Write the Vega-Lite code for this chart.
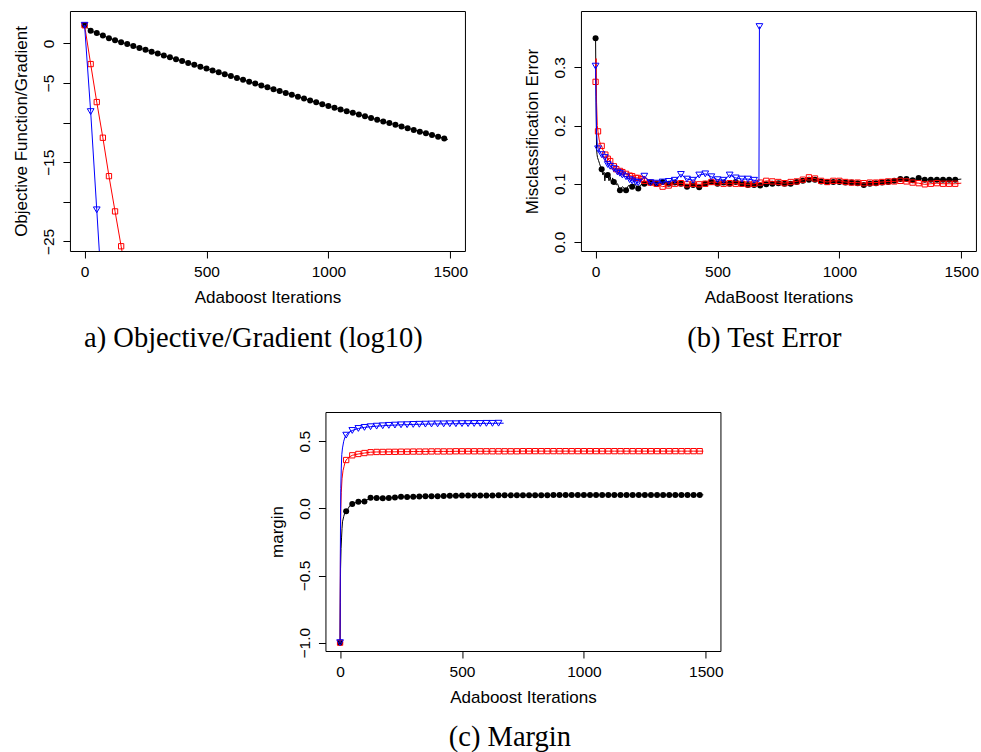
{
  "$schema": "https://vega.github.io/schema/vega-lite/v6.json",
  "background": "white",
  "padding": {"left": 11.5, "top": 10, "right": 0, "bottom": 0},
  "datasets": {
    "obj": [
      {"s": "k", "x": 0, "y": 2.3, "m": 1}, {"s": "k", "x": 25, "y": 1.6, "m": 1}, {"s": "k", "x": 50, "y": 1.31, "m": 1},
      {"s": "k", "x": 75, "y": 1.0, "m": 1}, {"s": "k", "x": 100, "y": 0.67, "m": 1}, {"s": "k", "x": 125, "y": 0.42, "m": 1},
      {"s": "k", "x": 150, "y": 0.17, "m": 1}, {"s": "k", "x": 175, "y": -0.08, "m": 1}, {"s": "k", "x": 200, "y": -0.33, "m": 1},
      {"s": "k", "x": 225, "y": -0.57, "m": 1}, {"s": "k", "x": 250, "y": -0.8, "m": 1}, {"s": "k", "x": 275, "y": -1.04, "m": 1},
      {"s": "k", "x": 300, "y": -1.28, "m": 1}, {"s": "k", "x": 325, "y": -1.51, "m": 1}, {"s": "k", "x": 350, "y": -1.75, "m": 1},
      {"s": "k", "x": 375, "y": -1.99, "m": 1}, {"s": "k", "x": 400, "y": -2.22, "m": 1}, {"s": "k", "x": 425, "y": -2.46, "m": 1},
      {"s": "k", "x": 450, "y": -2.7, "m": 1}, {"s": "k", "x": 475, "y": -2.93, "m": 1}, {"s": "k", "x": 500, "y": -3.17, "m": 1},
      {"s": "k", "x": 525, "y": -3.41, "m": 1}, {"s": "k", "x": 550, "y": -3.64, "m": 1}, {"s": "k", "x": 575, "y": -3.88, "m": 1},
      {"s": "k", "x": 600, "y": -4.12, "m": 1}, {"s": "k", "x": 625, "y": -4.35, "m": 1}, {"s": "k", "x": 650, "y": -4.59, "m": 1},
      {"s": "k", "x": 675, "y": -4.83, "m": 1}, {"s": "k", "x": 700, "y": -5.06, "m": 1}, {"s": "k", "x": 725, "y": -5.3, "m": 1},
      {"s": "k", "x": 750, "y": -5.54, "m": 1}, {"s": "k", "x": 775, "y": -5.77, "m": 1}, {"s": "k", "x": 800, "y": -6.01, "m": 1},
      {"s": "k", "x": 825, "y": -6.25, "m": 1}, {"s": "k", "x": 850, "y": -6.48, "m": 1}, {"s": "k", "x": 875, "y": -6.72, "m": 1},
      {"s": "k", "x": 900, "y": -6.96, "m": 1}, {"s": "k", "x": 925, "y": -7.19, "m": 1}, {"s": "k", "x": 950, "y": -7.43, "m": 1},
      {"s": "k", "x": 975, "y": -7.67, "m": 1}, {"s": "k", "x": 1000, "y": -7.9, "m": 1}, {"s": "k", "x": 1025, "y": -8.12, "m": 1},
      {"s": "k", "x": 1050, "y": -8.33, "m": 1}, {"s": "k", "x": 1075, "y": -8.55, "m": 1}, {"s": "k", "x": 1100, "y": -8.76, "m": 1},
      {"s": "k", "x": 1125, "y": -8.98, "m": 1}, {"s": "k", "x": 1150, "y": -9.19, "m": 1}, {"s": "k", "x": 1175, "y": -9.41, "m": 1},
      {"s": "k", "x": 1200, "y": -9.62, "m": 1}, {"s": "k", "x": 1225, "y": -9.84, "m": 1}, {"s": "k", "x": 1250, "y": -10.05, "m": 1},
      {"s": "k", "x": 1275, "y": -10.27, "m": 1}, {"s": "k", "x": 1300, "y": -10.48, "m": 1}, {"s": "k", "x": 1325, "y": -10.7, "m": 1},
      {"s": "k", "x": 1350, "y": -10.91, "m": 1}, {"s": "k", "x": 1375, "y": -11.13, "m": 1}, {"s": "k", "x": 1400, "y": -11.34, "m": 1},
      {"s": "k", "x": 1425, "y": -11.56, "m": 1}, {"s": "k", "x": 1450, "y": -11.77, "m": 1}, {"s": "k", "x": 1475, "y": -11.99, "m": 1},
      {"s": "k", "x": 1490, "y": -12.12, "m": 0},
      {"s": "r", "x": 0, "y": 2.3, "m": 1}, {"s": "r", "x": 25, "y": -2.6, "m": 1}, {"s": "r", "x": 50, "y": -7.4, "m": 1},
      {"s": "r", "x": 75, "y": -11.9, "m": 1}, {"s": "r", "x": 100, "y": -16.75, "m": 1}, {"s": "r", "x": 125, "y": -21.2, "m": 1},
      {"s": "r", "x": 150, "y": -25.6, "m": 1}, {"s": "r", "x": 175, "y": -30.0, "m": 1},
      {"s": "b", "x": 0, "y": 2.3, "m": 1}, {"s": "b", "x": 25, "y": -8.6, "m": 1}, {"s": "b", "x": 50, "y": -21.0, "m": 1},
      {"s": "b", "x": 75, "y": -33.5, "m": 1}
    ],
    "err": [
      {"s": "k", "x": 0, "y": 0.35, "m": 1}, {"s": "k", "x": 2, "y": 0.25, "m": 0}, {"s": "k", "x": 4, "y": 0.16, "m": 0},
      {"s": "k", "x": 6, "y": 0.15, "m": 0}, {"s": "k", "x": 8, "y": 0.145, "m": 0}, {"s": "k", "x": 12, "y": 0.14, "m": 0},
      {"s": "k", "x": 16, "y": 0.135, "m": 0}, {"s": "k", "x": 20, "y": 0.13, "m": 0}, {"s": "k", "x": 25, "y": 0.125, "m": 1},
      {"s": "k", "x": 30, "y": 0.115, "m": 0}, {"s": "k", "x": 35, "y": 0.12, "m": 0}, {"s": "k", "x": 38, "y": 0.105, "m": 0},
      {"s": "k", "x": 42, "y": 0.118, "m": 0}, {"s": "k", "x": 46, "y": 0.11, "m": 0}, {"s": "k", "x": 50, "y": 0.115, "m": 1},
      {"s": "k", "x": 55, "y": 0.105, "m": 0}, {"s": "k", "x": 60, "y": 0.112, "m": 0}, {"s": "k", "x": 65, "y": 0.1, "m": 0},
      {"s": "k", "x": 70, "y": 0.11, "m": 0}, {"s": "k", "x": 75, "y": 0.103, "m": 1}, {"s": "k", "x": 80, "y": 0.105, "m": 0},
      {"s": "k", "x": 85, "y": 0.098, "m": 0}, {"s": "k", "x": 90, "y": 0.1, "m": 0}, {"s": "k", "x": 100, "y": 0.089, "m": 1},
      {"s": "k", "x": 110, "y": 0.095, "m": 0}, {"s": "k", "x": 125, "y": 0.089, "m": 1}, {"s": "k", "x": 135, "y": 0.097, "m": 0},
      {"s": "k", "x": 150, "y": 0.095, "m": 1}, {"s": "k", "x": 160, "y": 0.1, "m": 0}, {"s": "k", "x": 175, "y": 0.092, "m": 1},
      {"s": "k", "x": 185, "y": 0.098, "m": 0}, {"s": "k", "x": 200, "y": 0.1, "m": 1}, {"s": "k", "x": 225, "y": 0.102, "m": 1},
      {"s": "k", "x": 250, "y": 0.1, "m": 1}, {"s": "k", "x": 275, "y": 0.103, "m": 1}, {"s": "k", "x": 300, "y": 0.1, "m": 1},
      {"s": "k", "x": 325, "y": 0.102, "m": 1}, {"s": "k", "x": 350, "y": 0.1, "m": 1}, {"s": "k", "x": 375, "y": 0.095, "m": 1},
      {"s": "k", "x": 400, "y": 0.098, "m": 1}, {"s": "k", "x": 425, "y": 0.094, "m": 1}, {"s": "k", "x": 450, "y": 0.1, "m": 1},
      {"s": "k", "x": 475, "y": 0.103, "m": 1}, {"s": "k", "x": 500, "y": 0.1, "m": 1}, {"s": "k", "x": 525, "y": 0.102, "m": 1},
      {"s": "k", "x": 550, "y": 0.1, "m": 1}, {"s": "k", "x": 575, "y": 0.103, "m": 1}, {"s": "k", "x": 600, "y": 0.1, "m": 1},
      {"s": "k", "x": 625, "y": 0.098, "m": 1}, {"s": "k", "x": 650, "y": 0.098, "m": 1}, {"s": "k", "x": 675, "y": 0.097, "m": 1},
      {"s": "k", "x": 700, "y": 0.099, "m": 1}, {"s": "k", "x": 725, "y": 0.1, "m": 1}, {"s": "k", "x": 750, "y": 0.101, "m": 1},
      {"s": "k", "x": 775, "y": 0.1, "m": 1}, {"s": "k", "x": 800, "y": 0.1, "m": 1}, {"s": "k", "x": 825, "y": 0.103, "m": 1},
      {"s": "k", "x": 850, "y": 0.105, "m": 1}, {"s": "k", "x": 875, "y": 0.107, "m": 1}, {"s": "k", "x": 900, "y": 0.107, "m": 1},
      {"s": "k", "x": 925, "y": 0.104, "m": 1}, {"s": "k", "x": 950, "y": 0.103, "m": 1}, {"s": "k", "x": 975, "y": 0.103, "m": 1},
      {"s": "k", "x": 1000, "y": 0.103, "m": 1}, {"s": "k", "x": 1025, "y": 0.102, "m": 1}, {"s": "k", "x": 1050, "y": 0.102, "m": 1},
      {"s": "k", "x": 1075, "y": 0.101, "m": 1}, {"s": "k", "x": 1100, "y": 0.098, "m": 1}, {"s": "k", "x": 1125, "y": 0.1, "m": 1},
      {"s": "k", "x": 1150, "y": 0.101, "m": 1}, {"s": "k", "x": 1175, "y": 0.102, "m": 1}, {"s": "k", "x": 1200, "y": 0.103, "m": 1},
      {"s": "k", "x": 1225, "y": 0.105, "m": 1}, {"s": "k", "x": 1250, "y": 0.108, "m": 1}, {"s": "k", "x": 1275, "y": 0.108, "m": 1},
      {"s": "k", "x": 1300, "y": 0.106, "m": 1}, {"s": "k", "x": 1325, "y": 0.11, "m": 1}, {"s": "k", "x": 1350, "y": 0.107, "m": 1},
      {"s": "k", "x": 1375, "y": 0.107, "m": 1}, {"s": "k", "x": 1400, "y": 0.107, "m": 1}, {"s": "k", "x": 1425, "y": 0.107, "m": 1},
      {"s": "k", "x": 1450, "y": 0.107, "m": 1}, {"s": "k", "x": 1475, "y": 0.107, "m": 1}, {"s": "k", "x": 1500, "y": 0.108, "m": 0},
      {"s": "r", "x": 0, "y": 0.275, "m": 1}, {"s": "r", "x": 2, "y": 0.315, "m": 0}, {"s": "r", "x": 4, "y": 0.24, "m": 0},
      {"s": "r", "x": 7, "y": 0.2, "m": 0}, {"s": "r", "x": 10, "y": 0.19, "m": 1}, {"s": "r", "x": 15, "y": 0.175, "m": 0},
      {"s": "r", "x": 20, "y": 0.168, "m": 0}, {"s": "r", "x": 25, "y": 0.165, "m": 1}, {"s": "r", "x": 30, "y": 0.158, "m": 0},
      {"s": "r", "x": 35, "y": 0.155, "m": 0}, {"s": "r", "x": 40, "y": 0.15, "m": 1}, {"s": "r", "x": 45, "y": 0.148, "m": 0},
      {"s": "r", "x": 50, "y": 0.143, "m": 1}, {"s": "r", "x": 60, "y": 0.139, "m": 1}, {"s": "r", "x": 70, "y": 0.131, "m": 0},
      {"s": "r", "x": 75, "y": 0.13, "m": 1}, {"s": "r", "x": 85, "y": 0.125, "m": 1}, {"s": "r", "x": 100, "y": 0.122, "m": 1},
      {"s": "r", "x": 110, "y": 0.12, "m": 1}, {"s": "r", "x": 125, "y": 0.117, "m": 1}, {"s": "r", "x": 140, "y": 0.114, "m": 1},
      {"s": "r", "x": 150, "y": 0.113, "m": 1}, {"s": "r", "x": 165, "y": 0.11, "m": 1}, {"s": "r", "x": 175, "y": 0.11, "m": 1},
      {"s": "r", "x": 190, "y": 0.108, "m": 1}, {"s": "r", "x": 200, "y": 0.105, "m": 1}, {"s": "r", "x": 225, "y": 0.102, "m": 1},
      {"s": "r", "x": 250, "y": 0.1, "m": 1}, {"s": "r", "x": 275, "y": 0.095, "m": 1}, {"s": "r", "x": 300, "y": 0.097, "m": 1},
      {"s": "r", "x": 325, "y": 0.1, "m": 1}, {"s": "r", "x": 350, "y": 0.101, "m": 1}, {"s": "r", "x": 375, "y": 0.099, "m": 1},
      {"s": "r", "x": 400, "y": 0.1, "m": 1}, {"s": "r", "x": 425, "y": 0.099, "m": 1}, {"s": "r", "x": 450, "y": 0.1, "m": 1},
      {"s": "r", "x": 475, "y": 0.103, "m": 1}, {"s": "r", "x": 500, "y": 0.102, "m": 1}, {"s": "r", "x": 525, "y": 0.1, "m": 1},
      {"s": "r", "x": 550, "y": 0.101, "m": 1}, {"s": "r", "x": 575, "y": 0.1, "m": 1}, {"s": "r", "x": 600, "y": 0.1, "m": 1},
      {"s": "r", "x": 625, "y": 0.099, "m": 1}, {"s": "r", "x": 650, "y": 0.1, "m": 1}, {"s": "r", "x": 675, "y": 0.102, "m": 1},
      {"s": "r", "x": 700, "y": 0.105, "m": 1}, {"s": "r", "x": 725, "y": 0.104, "m": 1}, {"s": "r", "x": 750, "y": 0.103, "m": 1},
      {"s": "r", "x": 775, "y": 0.101, "m": 1}, {"s": "r", "x": 800, "y": 0.103, "m": 1}, {"s": "r", "x": 825, "y": 0.104, "m": 1},
      {"s": "r", "x": 850, "y": 0.107, "m": 1}, {"s": "r", "x": 875, "y": 0.111, "m": 1}, {"s": "r", "x": 900, "y": 0.109, "m": 1},
      {"s": "r", "x": 925, "y": 0.105, "m": 1}, {"s": "r", "x": 950, "y": 0.103, "m": 1}, {"s": "r", "x": 975, "y": 0.105, "m": 1},
      {"s": "r", "x": 1000, "y": 0.105, "m": 1}, {"s": "r", "x": 1025, "y": 0.103, "m": 1}, {"s": "r", "x": 1050, "y": 0.102, "m": 1},
      {"s": "r", "x": 1075, "y": 0.102, "m": 1}, {"s": "r", "x": 1100, "y": 0.101, "m": 1}, {"s": "r", "x": 1125, "y": 0.102, "m": 1},
      {"s": "r", "x": 1150, "y": 0.102, "m": 1}, {"s": "r", "x": 1175, "y": 0.103, "m": 1}, {"s": "r", "x": 1200, "y": 0.104, "m": 1},
      {"s": "r", "x": 1225, "y": 0.104, "m": 1}, {"s": "r", "x": 1250, "y": 0.105, "m": 1}, {"s": "r", "x": 1275, "y": 0.104, "m": 1},
      {"s": "r", "x": 1300, "y": 0.102, "m": 1}, {"s": "r", "x": 1325, "y": 0.101, "m": 1}, {"s": "r", "x": 1350, "y": 0.099, "m": 1},
      {"s": "r", "x": 1375, "y": 0.1, "m": 1}, {"s": "r", "x": 1400, "y": 0.101, "m": 1}, {"s": "r", "x": 1425, "y": 0.1, "m": 1},
      {"s": "r", "x": 1450, "y": 0.1, "m": 1}, {"s": "r", "x": 1475, "y": 0.1, "m": 1}, {"s": "r", "x": 1500, "y": 0.101, "m": 0},
      {"s": "b", "x": 0, "y": 0.302, "m": 1}, {"s": "b", "x": 2, "y": 0.24, "m": 0}, {"s": "b", "x": 4, "y": 0.19, "m": 0},
      {"s": "b", "x": 7, "y": 0.168, "m": 0}, {"s": "b", "x": 10, "y": 0.16, "m": 1}, {"s": "b", "x": 13, "y": 0.159, "m": 0},
      {"s": "b", "x": 18, "y": 0.155, "m": 0}, {"s": "b", "x": 25, "y": 0.15, "m": 1}, {"s": "b", "x": 30, "y": 0.148, "m": 0},
      {"s": "b", "x": 38, "y": 0.145, "m": 1}, {"s": "b", "x": 45, "y": 0.138, "m": 0}, {"s": "b", "x": 50, "y": 0.133, "m": 1},
      {"s": "b", "x": 60, "y": 0.13, "m": 1}, {"s": "b", "x": 75, "y": 0.126, "m": 1}, {"s": "b", "x": 90, "y": 0.12, "m": 1},
      {"s": "b", "x": 100, "y": 0.118, "m": 1}, {"s": "b", "x": 110, "y": 0.115, "m": 1}, {"s": "b", "x": 125, "y": 0.112, "m": 1},
      {"s": "b", "x": 140, "y": 0.107, "m": 1}, {"s": "b", "x": 150, "y": 0.105, "m": 1}, {"s": "b", "x": 165, "y": 0.103, "m": 1},
      {"s": "b", "x": 175, "y": 0.102, "m": 1}, {"s": "b", "x": 200, "y": 0.113, "m": 1}, {"s": "b", "x": 225, "y": 0.102, "m": 1},
      {"s": "b", "x": 250, "y": 0.101, "m": 1}, {"s": "b", "x": 275, "y": 0.103, "m": 1}, {"s": "b", "x": 300, "y": 0.104, "m": 1},
      {"s": "b", "x": 325, "y": 0.106, "m": 1}, {"s": "b", "x": 350, "y": 0.116, "m": 1}, {"s": "b", "x": 375, "y": 0.108, "m": 1},
      {"s": "b", "x": 400, "y": 0.106, "m": 1}, {"s": "b", "x": 425, "y": 0.115, "m": 1}, {"s": "b", "x": 450, "y": 0.117, "m": 1},
      {"s": "b", "x": 475, "y": 0.112, "m": 1}, {"s": "b", "x": 500, "y": 0.107, "m": 1}, {"s": "b", "x": 525, "y": 0.106, "m": 1},
      {"s": "b", "x": 550, "y": 0.115, "m": 1}, {"s": "b", "x": 575, "y": 0.11, "m": 1}, {"s": "b", "x": 600, "y": 0.108, "m": 1},
      {"s": "b", "x": 625, "y": 0.108, "m": 1}, {"s": "b", "x": 650, "y": 0.106, "m": 1}, {"s": "b", "x": 670, "y": 0.104, "m": 0},
      {"s": "b", "x": 672, "y": 0.37, "m": 1}
    ],
    "mar": [
      {"s": "k", "x": 0, "y": -1.0, "m": 1}, {"s": "k", "x": 1, "y": -0.7, "m": 0}, {"s": "k", "x": 2, "y": -0.45, "m": 0},
      {"s": "k", "x": 4, "y": -0.3, "m": 0}, {"s": "k", "x": 6, "y": -0.22, "m": 0}, {"s": "k", "x": 8, "y": -0.15, "m": 0},
      {"s": "k", "x": 10, "y": -0.1, "m": 0}, {"s": "k", "x": 15, "y": -0.06, "m": 0}, {"s": "k", "x": 20, "y": -0.03, "m": 0},
      {"s": "k", "x": 25, "y": -0.022, "m": 1}, {"s": "k", "x": 30, "y": -0.01, "m": 0}, {"s": "k", "x": 40, "y": 0.02, "m": 0},
      {"s": "k", "x": 50, "y": 0.032, "m": 1}, {"s": "k", "x": 60, "y": 0.04, "m": 0}, {"s": "k", "x": 75, "y": 0.05, "m": 1},
      {"s": "k", "x": 100, "y": 0.052, "m": 1}, {"s": "k", "x": 125, "y": 0.079, "m": 1}, {"s": "k", "x": 150, "y": 0.078, "m": 1},
      {"s": "k", "x": 175, "y": 0.076, "m": 1}, {"s": "k", "x": 200, "y": 0.078, "m": 1}, {"s": "k", "x": 225, "y": 0.08, "m": 1},
      {"s": "k", "x": 250, "y": 0.086, "m": 1}, {"s": "k", "x": 275, "y": 0.085, "m": 1}, {"s": "k", "x": 300, "y": 0.087, "m": 1},
      {"s": "k", "x": 325, "y": 0.088, "m": 1}, {"s": "k", "x": 350, "y": 0.09, "m": 1}, {"s": "k", "x": 375, "y": 0.09, "m": 1},
      {"s": "k", "x": 400, "y": 0.091, "m": 1}, {"s": "k", "x": 425, "y": 0.092, "m": 1}, {"s": "k", "x": 450, "y": 0.093, "m": 1},
      {"s": "k", "x": 475, "y": 0.094, "m": 1}, {"s": "k", "x": 500, "y": 0.095, "m": 1}, {"s": "k", "x": 525, "y": 0.095, "m": 1},
      {"s": "k", "x": 550, "y": 0.095, "m": 1}, {"s": "k", "x": 575, "y": 0.096, "m": 1}, {"s": "k", "x": 600, "y": 0.096, "m": 1},
      {"s": "k", "x": 625, "y": 0.096, "m": 1}, {"s": "k", "x": 650, "y": 0.097, "m": 1}, {"s": "k", "x": 675, "y": 0.097, "m": 1},
      {"s": "k", "x": 700, "y": 0.097, "m": 1}, {"s": "k", "x": 725, "y": 0.097, "m": 1}, {"s": "k", "x": 750, "y": 0.098, "m": 1},
      {"s": "k", "x": 775, "y": 0.098, "m": 1}, {"s": "k", "x": 800, "y": 0.098, "m": 1}, {"s": "k", "x": 825, "y": 0.098, "m": 1},
      {"s": "k", "x": 850, "y": 0.098, "m": 1}, {"s": "k", "x": 875, "y": 0.099, "m": 1}, {"s": "k", "x": 900, "y": 0.099, "m": 1},
      {"s": "k", "x": 925, "y": 0.099, "m": 1}, {"s": "k", "x": 950, "y": 0.099, "m": 1}, {"s": "k", "x": 975, "y": 0.099, "m": 1},
      {"s": "k", "x": 1000, "y": 0.099, "m": 1}, {"s": "k", "x": 1025, "y": 0.099, "m": 1}, {"s": "k", "x": 1050, "y": 0.1, "m": 1},
      {"s": "k", "x": 1075, "y": 0.1, "m": 1}, {"s": "k", "x": 1100, "y": 0.1, "m": 1}, {"s": "k", "x": 1125, "y": 0.1, "m": 1},
      {"s": "k", "x": 1150, "y": 0.1, "m": 1}, {"s": "k", "x": 1175, "y": 0.1, "m": 1}, {"s": "k", "x": 1200, "y": 0.1, "m": 1},
      {"s": "k", "x": 1225, "y": 0.1, "m": 1}, {"s": "k", "x": 1250, "y": 0.1, "m": 1}, {"s": "k", "x": 1275, "y": 0.1, "m": 1},
      {"s": "k", "x": 1300, "y": 0.1, "m": 1}, {"s": "k", "x": 1325, "y": 0.1, "m": 1}, {"s": "k", "x": 1350, "y": 0.1, "m": 1},
      {"s": "k", "x": 1375, "y": 0.1, "m": 1}, {"s": "k", "x": 1400, "y": 0.1, "m": 1}, {"s": "k", "x": 1425, "y": 0.1, "m": 1},
      {"s": "k", "x": 1450, "y": 0.1, "m": 1}, {"s": "k", "x": 1475, "y": 0.1, "m": 1}, {"s": "k", "x": 1490, "y": 0.101, "m": 0},
      {"s": "r", "x": 0, "y": -1.0, "m": 1}, {"s": "r", "x": 1, "y": -0.5, "m": 0}, {"s": "r", "x": 2, "y": -0.2, "m": 0},
      {"s": "r", "x": 3, "y": 0.0, "m": 0}, {"s": "r", "x": 5, "y": 0.12, "m": 0}, {"s": "r", "x": 8, "y": 0.22, "m": 0},
      {"s": "r", "x": 12, "y": 0.28, "m": 0}, {"s": "r", "x": 16, "y": 0.31, "m": 0}, {"s": "r", "x": 20, "y": 0.34, "m": 0},
      {"s": "r", "x": 25, "y": 0.36, "m": 1}, {"s": "r", "x": 30, "y": 0.37, "m": 0}, {"s": "r", "x": 40, "y": 0.385, "m": 0},
      {"s": "r", "x": 50, "y": 0.395, "m": 1}, {"s": "r", "x": 75, "y": 0.405, "m": 1}, {"s": "r", "x": 100, "y": 0.412, "m": 1},
      {"s": "r", "x": 125, "y": 0.418, "m": 1}, {"s": "r", "x": 150, "y": 0.42, "m": 1}, {"s": "r", "x": 175, "y": 0.42, "m": 1},
      {"s": "r", "x": 200, "y": 0.421, "m": 1}, {"s": "r", "x": 225, "y": 0.421, "m": 1}, {"s": "r", "x": 250, "y": 0.422, "m": 1},
      {"s": "r", "x": 275, "y": 0.422, "m": 1}, {"s": "r", "x": 300, "y": 0.423, "m": 1}, {"s": "r", "x": 325, "y": 0.423, "m": 1},
      {"s": "r", "x": 350, "y": 0.423, "m": 1}, {"s": "r", "x": 375, "y": 0.424, "m": 1}, {"s": "r", "x": 400, "y": 0.424, "m": 1},
      {"s": "r", "x": 425, "y": 0.424, "m": 1}, {"s": "r", "x": 450, "y": 0.424, "m": 1}, {"s": "r", "x": 475, "y": 0.425, "m": 1},
      {"s": "r", "x": 500, "y": 0.425, "m": 1}, {"s": "r", "x": 525, "y": 0.425, "m": 1}, {"s": "r", "x": 550, "y": 0.425, "m": 1},
      {"s": "r", "x": 575, "y": 0.425, "m": 1}, {"s": "r", "x": 600, "y": 0.425, "m": 1}, {"s": "r", "x": 625, "y": 0.425, "m": 1},
      {"s": "r", "x": 650, "y": 0.425, "m": 1}, {"s": "r", "x": 675, "y": 0.425, "m": 1}, {"s": "r", "x": 700, "y": 0.425, "m": 1},
      {"s": "r", "x": 725, "y": 0.425, "m": 1}, {"s": "r", "x": 750, "y": 0.426, "m": 1}, {"s": "r", "x": 775, "y": 0.426, "m": 1},
      {"s": "r", "x": 800, "y": 0.426, "m": 1}, {"s": "r", "x": 825, "y": 0.426, "m": 1}, {"s": "r", "x": 850, "y": 0.426, "m": 1},
      {"s": "r", "x": 875, "y": 0.426, "m": 1}, {"s": "r", "x": 900, "y": 0.426, "m": 1}, {"s": "r", "x": 925, "y": 0.426, "m": 1},
      {"s": "r", "x": 950, "y": 0.426, "m": 1}, {"s": "r", "x": 975, "y": 0.426, "m": 1}, {"s": "r", "x": 1000, "y": 0.426, "m": 1},
      {"s": "r", "x": 1025, "y": 0.426, "m": 1}, {"s": "r", "x": 1050, "y": 0.426, "m": 1}, {"s": "r", "x": 1075, "y": 0.426, "m": 1},
      {"s": "r", "x": 1100, "y": 0.426, "m": 1}, {"s": "r", "x": 1125, "y": 0.426, "m": 1}, {"s": "r", "x": 1150, "y": 0.426, "m": 1},
      {"s": "r", "x": 1175, "y": 0.426, "m": 1}, {"s": "r", "x": 1200, "y": 0.426, "m": 1}, {"s": "r", "x": 1225, "y": 0.426, "m": 1},
      {"s": "r", "x": 1250, "y": 0.426, "m": 1}, {"s": "r", "x": 1275, "y": 0.426, "m": 1}, {"s": "r", "x": 1300, "y": 0.426, "m": 1},
      {"s": "r", "x": 1325, "y": 0.426, "m": 1}, {"s": "r", "x": 1350, "y": 0.426, "m": 1}, {"s": "r", "x": 1375, "y": 0.426, "m": 1},
      {"s": "r", "x": 1400, "y": 0.426, "m": 1}, {"s": "r", "x": 1425, "y": 0.426, "m": 1}, {"s": "r", "x": 1450, "y": 0.426, "m": 1},
      {"s": "r", "x": 1475, "y": 0.426, "m": 1}, {"s": "r", "x": 1490, "y": 0.426, "m": 0},
      {"s": "b", "x": 0, "y": -1.0, "m": 1}, {"s": "b", "x": 1, "y": -0.4, "m": 0}, {"s": "b", "x": 2, "y": -0.05, "m": 0},
      {"s": "b", "x": 3, "y": 0.15, "m": 0}, {"s": "b", "x": 5, "y": 0.3, "m": 0}, {"s": "b", "x": 7, "y": 0.4, "m": 0},
      {"s": "b", "x": 10, "y": 0.45, "m": 0}, {"s": "b", "x": 15, "y": 0.5, "m": 0}, {"s": "b", "x": 20, "y": 0.53, "m": 0},
      {"s": "b", "x": 25, "y": 0.545, "m": 1}, {"s": "b", "x": 35, "y": 0.565, "m": 0}, {"s": "b", "x": 50, "y": 0.58, "m": 1},
      {"s": "b", "x": 75, "y": 0.595, "m": 1}, {"s": "b", "x": 100, "y": 0.603, "m": 1}, {"s": "b", "x": 125, "y": 0.608, "m": 1},
      {"s": "b", "x": 150, "y": 0.612, "m": 1}, {"s": "b", "x": 175, "y": 0.615, "m": 1}, {"s": "b", "x": 200, "y": 0.618, "m": 1},
      {"s": "b", "x": 225, "y": 0.62, "m": 1}, {"s": "b", "x": 250, "y": 0.622, "m": 1}, {"s": "b", "x": 275, "y": 0.623, "m": 1},
      {"s": "b", "x": 300, "y": 0.625, "m": 1}, {"s": "b", "x": 325, "y": 0.626, "m": 1}, {"s": "b", "x": 350, "y": 0.627, "m": 1},
      {"s": "b", "x": 375, "y": 0.628, "m": 1}, {"s": "b", "x": 400, "y": 0.629, "m": 1}, {"s": "b", "x": 425, "y": 0.629, "m": 1},
      {"s": "b", "x": 450, "y": 0.63, "m": 1}, {"s": "b", "x": 475, "y": 0.63, "m": 1}, {"s": "b", "x": 500, "y": 0.631, "m": 1},
      {"s": "b", "x": 525, "y": 0.631, "m": 1}, {"s": "b", "x": 550, "y": 0.632, "m": 1}, {"s": "b", "x": 575, "y": 0.632, "m": 1},
      {"s": "b", "x": 600, "y": 0.633, "m": 1}, {"s": "b", "x": 625, "y": 0.633, "m": 1}, {"s": "b", "x": 650, "y": 0.634, "m": 1},
      {"s": "b", "x": 671, "y": 0.634, "m": 0}
    ]
  },
  "vconcat": [
    {
      "hconcat": [
        {
          "width": 395,
          "height": 240,
          "data": {"name": "obj"},
          "title": {"text": "a) Objective/Gradient (log10)", "dx": -14, "offset": 18},
          "encoding": {
            "x": {"field": "x", "type": "quantitative", "scale": {"domain": [-60, 1560], "nice": false, "zero": false},
                  "axis": {"values": [0, 500, 1000, 1500], "format": "d", "title": "Adaboost Iterations"}},
            "y": {"field": "y", "type": "quantitative", "scale": {"domain": [-26.2, 4.1], "nice": false, "zero": false},
                  "axis": {"values": [0, -5, -10, -15, -20, -25], "labelExpr": "datum.value == -10 || datum.value == -20 ? '' : datum.label", "title": "Objective Function/Gradient"}}
          },
          "layer": [
            {"transform": [{"filter": "datum.s == 'k'"}], "mark": {"type": "line", "color": "black", "strokeWidth": 1, "clip": true}},
            {"transform": [{"filter": "datum.s == 'k' && datum.m == 1"}], "mark": {"type": "circle", "color": "black", "opacity": 1, "size": 36, "clip": true}},
            {"transform": [{"filter": "datum.s == 'r'"}], "mark": {"type": "line", "color": "red", "strokeWidth": 1, "clip": true}},
            {"transform": [{"filter": "datum.s == 'r' && datum.m == 1"}], "mark": {"type": "point", "shape": "square", "filled": false, "color": "red", "opacity": 1, "size": 28, "strokeWidth": 1, "clip": true}},
            {"transform": [{"filter": "datum.s == 'b'"}], "mark": {"type": "line", "color": "blue", "strokeWidth": 1, "clip": true}},
            {"transform": [{"filter": "datum.s == 'b' && datum.m == 1"}], "mark": {"type": "point", "shape": "triangle-down", "filled": false, "color": "blue", "opacity": 1, "size": 45, "strokeWidth": 1, "clip": true}}
          ]
        },
        {
          "width": 395,
          "height": 240,
          "data": {"name": "err"},
          "title": {"text": "(b) Test Error", "dx": -14, "offset": 18},
          "encoding": {
            "x": {"field": "x", "type": "quantitative", "scale": {"domain": [-60, 1560], "nice": false, "zero": false},
                  "axis": {"values": [0, 500, 1000, 1500], "format": "d", "title": "AdaBoost Iterations"}},
            "y": {"field": "y", "type": "quantitative", "scale": {"domain": [-0.0155, 0.3967], "nice": false, "zero": false},
                  "axis": {"values": [0, 0.1, 0.2, 0.3], "format": ".1f", "title": "Misclassification Error"}}
          },
          "layer": [
            {"transform": [{"filter": "datum.s == 'k'"}], "mark": {"type": "line", "color": "black", "strokeWidth": 1, "clip": true}},
            {"transform": [{"filter": "datum.s == 'k' && datum.m == 1"}], "mark": {"type": "circle", "color": "black", "opacity": 1, "size": 36, "clip": true}},
            {"transform": [{"filter": "datum.s == 'r'"}], "mark": {"type": "line", "color": "red", "strokeWidth": 1, "clip": true}},
            {"transform": [{"filter": "datum.s == 'r' && datum.m == 1"}], "mark": {"type": "point", "shape": "square", "filled": false, "color": "red", "opacity": 1, "size": 28, "strokeWidth": 1, "clip": true}},
            {"transform": [{"filter": "datum.s == 'b'"}], "mark": {"type": "line", "color": "blue", "strokeWidth": 1, "clip": true}},
            {"transform": [{"filter": "datum.s == 'b' && datum.m == 1"}], "mark": {"type": "point", "shape": "triangle-down", "filled": false, "color": "blue", "opacity": 1, "size": 45, "strokeWidth": 1, "clip": true}}
          ]
        }
      ],
      "spacing": 54
    },
    {
      "width": 395,
      "height": 239,
      "data": {"name": "mar"},
      "title": {"text": "(c) Margin", "dx": -13, "offset": 17},
      "encoding": {
        "x": {"field": "x", "type": "quantitative", "scale": {"domain": [-60, 1560], "nice": false, "zero": false},
              "axis": {"values": [0, 500, 1000, 1500], "format": "d", "title": "Adaboost Iterations"}},
        "y": {"field": "y", "type": "quantitative", "scale": {"domain": [-1.062, 0.7175], "nice": false, "zero": false},
              "axis": {"values": [-1, -0.5, 0, 0.5], "format": ".1f", "title": "margin"}}
      },
      "layer": [
        {"transform": [{"filter": "datum.s == 'k'"}], "mark": {"type": "line", "color": "black", "strokeWidth": 1, "clip": true}},
        {"transform": [{"filter": "datum.s == 'k' && datum.m == 1"}], "mark": {"type": "circle", "color": "black", "opacity": 1, "size": 36, "clip": true}},
        {"transform": [{"filter": "datum.s == 'r'"}], "mark": {"type": "line", "color": "red", "strokeWidth": 1, "clip": true}},
        {"transform": [{"filter": "datum.s == 'r' && datum.m == 1"}], "mark": {"type": "point", "shape": "square", "filled": false, "color": "red", "opacity": 1, "size": 28, "strokeWidth": 1, "clip": true}},
        {"transform": [{"filter": "datum.s == 'b'"}], "mark": {"type": "line", "color": "blue", "strokeWidth": 1, "clip": true}},
        {"transform": [{"filter": "datum.s == 'b' && datum.m == 1"}], "mark": {"type": "point", "shape": "triangle-down", "filled": false, "color": "blue", "opacity": 1, "size": 45, "strokeWidth": 1, "clip": true}}
      ]
    }
  ],
  "spacing": 58,
  "center": true,
  "config": {
    "view": {"stroke": "black", "strokeWidth": 1},
    "axis": {
      "domain": false,
      "grid": false,
      "ticks": true,
      "tickSize": 7,
      "tickColor": "black",
      "tickWidth": 1,
      "labelFont": "Liberation Sans",
      "labelFontSize": 15.5,
      "labelColor": "black",
      "labelPadding": 6,
      "labelFlush": false,
      "labelOverlap": false,
      "titleFont": "Liberation Sans",
      "titleFontSize": 17,
      "titleFontWeight": "normal",
      "titleColor": "black",
      "titlePadding": 10
    },
    "axisY": {"labelAngle": -90, "labelAlign": "center", "labelBaseline": "bottom", "titlePadding": 11},
    "title": {
      "font": "Liberation Serif",
      "fontSize": 28.5,
      "fontWeight": "normal",
      "color": "black",
      "orient": "bottom",
      "anchor": "middle",
      "frame": "group",
      "baseline": "alphabetic"
    }
  }
}
